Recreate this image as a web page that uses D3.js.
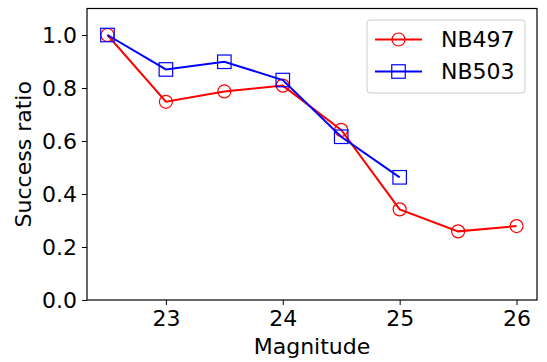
<!DOCTYPE html>
<html><head><meta charset="utf-8">
<script src="https://cdn.jsdelivr.net/npm/d3@7"></script>
<style>body{margin:0;background:#fff}svg{display:block}text{font-family:"DejaVu Sans",sans-serif}</style>
</head><body>
<script>
const magsA = [22.5, 23, 23.5, 24, 24.5, 25, 25.5, 26];
const nb497 = [1.0, 0.748, 0.787, 0.809, 0.642, 0.342, 0.259, 0.279];
const magsB = [22.5, 23, 23.5, 24, 24.5, 25];
const nb503 = [1.0, 0.870, 0.899, 0.830, 0.616, 0.463];
const xTicks = [23, 24, 25, 26];
const yTicks = [0.0, 0.2, 0.4, 0.6, 0.8, 1.0];
const seriesNames = ["NB497", "NB503"];

const W = 547, H = 362;
const L = 87, R = 537, T = 8.5, B = 300;
const FS = 22;
const svg = d3.select("body").append("svg").attr("width", W).attr("height", H);
const x = d3.scaleLinear().domain([22.325, 26.175]).range([L, R]);
const y = d3.scaleLinear().domain([0, 1.1]).range([B, T]);

const xAxis = svg.append("g").attr("transform", `translate(0,${B})`)
  .call(d3.axisBottom(x).tickValues(xTicks).tickFormat(d3.format("d")).tickSize(5).tickPadding(5));
const yAxis = svg.append("g").attr("transform", `translate(${L},0)`)
  .call(d3.axisLeft(y).tickValues(yTicks).tickFormat(d3.format(".1f")).tickSize(5).tickPadding(5));
[xAxis, yAxis].forEach(g => {
  g.attr("font-size", FS).attr("font-family", "DejaVu Sans");
  g.select(".domain").remove();
  g.selectAll("line").attr("stroke", "#000").attr("stroke-width", 1);
  g.selectAll("text").attr("fill", "#000");
});
svg.append("rect").attr("x", L).attr("y", T).attr("width", R - L).attr("height", B - T)
  .attr("fill", "none").attr("stroke", "#000").attr("stroke-width", 1.2);

const line = d3.line().x(d => x(d[0])).y(d => y(d[1]));
const dA = magsA.map((m, i) => [m, nb497[i]]);
const dB = magsB.map((m, i) => [m, nb503[i]]);

svg.append("path").datum(dA).attr("d", line).attr("fill", "none").attr("stroke", "red").attr("stroke-width", 2);
svg.selectAll(".ca").data(dA).enter().append("circle")
  .attr("cx", d => x(d[0])).attr("cy", d => y(d[1])).attr("r", 6.5)
  .attr("fill", "none").attr("stroke", "red").attr("stroke-width", 1.2);
svg.append("path").datum(dB).attr("d", line).attr("fill", "none").attr("stroke", "blue").attr("stroke-width", 2);
svg.selectAll(".sb").data(dB).enter().append("rect")
  .attr("x", d => x(d[0]) - 6.75).attr("y", d => y(d[1]) - 6.75).attr("width", 13.5).attr("height", 13.5)
  .attr("fill", "none").attr("stroke", "blue").attr("stroke-width", 1.2);

// legend
const lg = svg.append("g");
lg.append("rect").attr("x", 367).attr("y", 20).attr("width", 158).attr("height", 73).attr("rx", 3)
  .attr("fill", "#fff").attr("fill-opacity", 0.8).attr("stroke", "#ccc").attr("stroke-width", 1);
const colors = ["red", "blue"];
seriesNames.forEach((n, i) => {
  const yy = 39.5 + i * 32;
  lg.append("line").attr("x1", 375).attr("x2", 422).attr("y1", yy).attr("y2", yy)
    .attr("stroke", colors[i]).attr("stroke-width", 2);
  if (i === 0) lg.append("circle").attr("cx", 398.5).attr("cy", yy).attr("r", 6.5)
    .attr("fill", "none").attr("stroke", "red").attr("stroke-width", 1.2);
  else lg.append("rect").attr("x", 391.75).attr("y", yy - 6.75).attr("width", 13.5).attr("height", 13.5)
    .attr("fill", "none").attr("stroke", "blue").attr("stroke-width", 1.2);
  lg.append("text").attr("x", 441).attr("y", yy).attr("dy", "0.36em").attr("font-size", FS)
    .attr("fill", "#000").text(n);
});

svg.append("text").attr("x", (L + R) / 2).attr("y", 354).attr("text-anchor", "middle")
  .attr("font-size", FS).text("Magnitude");
svg.append("text").attr("transform", `translate(31,${(T + B) / 2}) rotate(-90)`)
  .attr("text-anchor", "middle").attr("font-size", FS).text("Success ratio");
</script>
</body></html>
